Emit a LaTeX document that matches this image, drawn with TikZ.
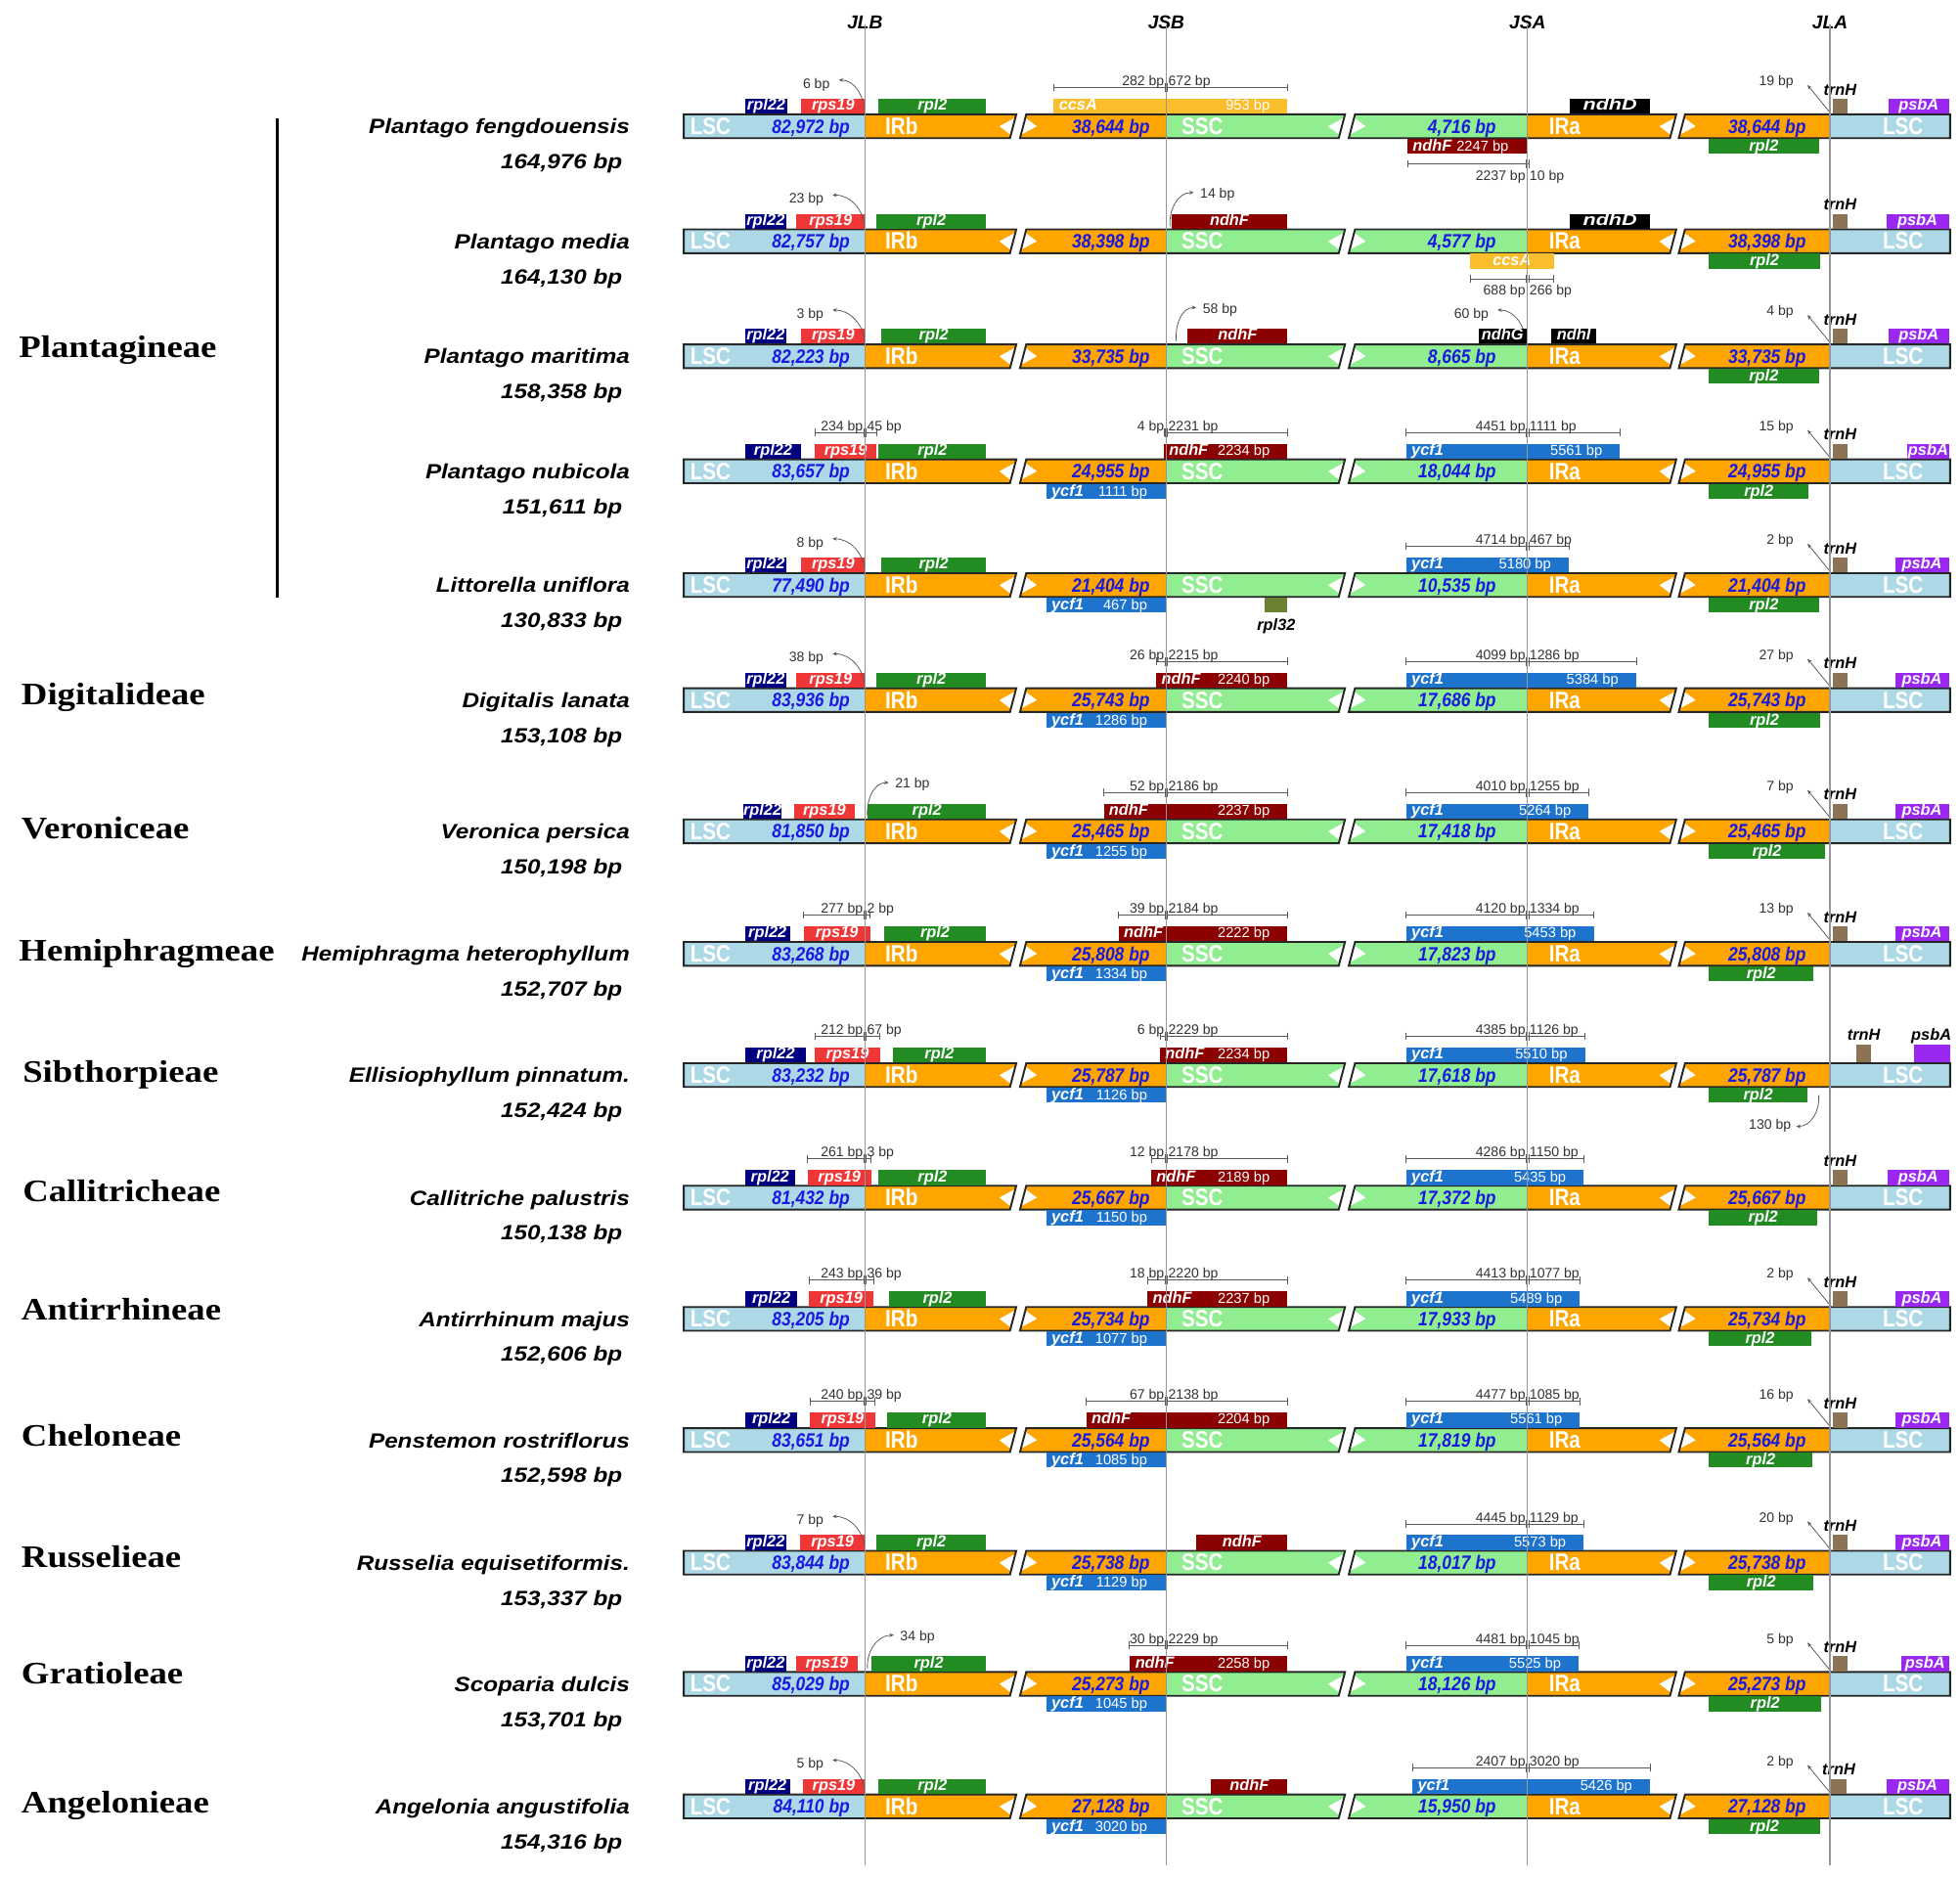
\documentclass[tikz,border=0pt]{standalone}
\usepackage{fontspec}
\usetikzlibrary{arrows.meta}
\setmainfont{Liberation Sans}
\newfontfamily\spfont[FakeStretch=1.15]{Liberation Sans}
\newfontfamily\trfont[FakeStretch=1.15]{Liberation Serif}
\newfontfamily\nafont[FakeStretch=0.88]{Liberation Sans}
\newfontfamily\rgfont[FakeStretch=0.85]{Liberation Sans}
\newfontfamily\hdfont{Liberation Sans}
\newfontfamily\wdfont[FakeStretch=1.3]{Liberation Sans}
\newcommand\fSp{\spfont\bfseries\itshape\fontsize{16.5}{18}\selectfont}
\newcommand\fTr{\trfont\bfseries\fontsize{25}{28}\selectfont}
\newcommand\fBp{\nafont\bfseries\itshape\fontsize{15.5}{17}\selectfont}
\newcommand\fReg{\rgfont\bfseries\fontsize{19}{21}\selectfont}
\newcommand\fGn{\hdfont\bfseries\itshape\fontsize{12.8}{14}\selectfont}
\newcommand\fNum{\hdfont\fontsize{11.5}{13}\selectfont}
\newcommand\fSm{\hdfont\fontsize{11}{12}\selectfont}
\newcommand\fHd{\hdfont\bfseries\itshape\fontsize{15}{17}\selectfont}
\newcommand\ndhD{{\wdfont\bfseries\itshape\fontsize{13}{14}\selectfont ndhD}}
\definecolor{lscc}{RGB}{173,216,230}
\definecolor{irc}{RGB}{255,165,0}
\definecolor{sscc}{RGB}{144,238,144}
\definecolor{bpc}{RGB}{25,25,225}
\definecolor{c22}{RGB}{0,0,128}
\definecolor{c19}{RGB}{240,55,55}
\definecolor{c2}{RGB}{34,139,34}
\definecolor{cca}{RGB}{250,190,45}
\definecolor{cnf}{RGB}{139,0,0}
\definecolor{cycf}{RGB}{30,115,205}
\definecolor{ctrn}{RGB}{140,115,85}
\definecolor{cpsb}{RGB}{155,40,240}
\definecolor{c32}{RGB}{107,130,50}
\definecolor{vline}{RGB}{150,150,150}
\tikzset{
 segl/.style={draw=black!85, line width=1.5pt, line join=miter},
 gt/.style={font=\fGn, text=white, inner sep=0pt},
 nt/.style={font=\fNum, text=white, inner sep=0pt},
 gk/.style={font=\fGn, text=black, inner sep=0pt},
 smt/.style={font=\fSm, text=black!80, inner sep=0pt},
 bpt/.style={font=\fBp, text=bpc, inner sep=0pt},
 rgt/.style={font=\fReg, text=white, inner sep=0pt},
 spt/.style={font=\fSp, text=black, inner sep=0pt},
 trt/.style={font=\fTr, text=black, inner sep=0pt},
 hdt/.style={font=\fHd, text=black, inner sep=0pt},
 dimln/.style={draw=black!65, line width=0.6pt},
 arr/.style={draw=black!65, line width=0.6pt, -{Stealth[length=3.5pt,width=3pt]}},
 vln/.style={draw=vline, line width=1pt}
}
% bar with its labels: id, c, lsc, ir, ssc
\newcommand\Gbar[5]{%
 \fill[lscc] (547,#2-9.5) rectangle (692,#2+9.5);
 \fill[irc] (692,#2-9.5) -- (813,#2-9.5) -- (808,#2+9.5) -- (692,#2+9.5) -- cycle;
 \fill[white] (811.5,#2-6.5) -- (799.5,#2) -- (808,#2+6.5) -- cycle;
 \draw[segl] (547,#2-9.5) -- (813,#2-9.5) -- (808,#2+9.5) -- (547,#2+9.5) -- cycle;
 \fill[irc] (821,#2-9.5) -- (933,#2-9.5) -- (933,#2+9.5) -- (816,#2+9.5) -- cycle;
 \fill[sscc] (933,#2-9.5) -- (1076,#2-9.5) -- (1071,#2+9.5) -- (933,#2+9.5) -- cycle;
 \fill[white] (820.7,#2-6.5) -- (829.5,#2) -- (817.3,#2+6.5) -- cycle;
 \fill[white] (1074.5,#2-6.5) -- (1062.5,#2) -- (1071,#2+6.5) -- cycle;
 \draw[segl] (821,#2-9.5) -- (1076,#2-9.5) -- (1071,#2+9.5) -- (816,#2+9.5) -- cycle;
 \fill[sscc] (1084,#2-9.5) -- (1222,#2-9.5) -- (1222,#2+9.5) -- (1079,#2+9.5) -- cycle;
 \fill[irc] (1222,#2-9.5) -- (1341,#2-9.5) -- (1336,#2+9.5) -- (1222,#2+9.5) -- cycle;
 \fill[white] (1083.7,#2-6.5) -- (1092.5,#2) -- (1080.3,#2+6.5) -- cycle;
 \fill[white] (1339.5,#2-6.5) -- (1327.5,#2) -- (1336,#2+6.5) -- cycle;
 \draw[segl] (1084,#2-9.5) -- (1341,#2-9.5) -- (1336,#2+9.5) -- (1079,#2+9.5) -- cycle;
 \fill[irc] (1348,#2-9.5) -- (1464,#2-9.5) -- (1464,#2+9.5) -- (1343,#2+9.5) -- cycle;
 \fill[lscc] (1464,#2-9.5) rectangle (1560,#2+9.5);
 \fill[white] (1347.7,#2-6.5) -- (1356.5,#2) -- (1344.3,#2+6.5) -- cycle;
 \draw[segl] (1348,#2-9.5) -- (1560,#2-9.5) -- (1560,#2+9.5) -- (1343,#2+9.5) -- cycle;
 \node[rgt, anchor=base west] (#1lsa) at (552,#2+6.5) {LSC};
 \node[bpt, anchor=base east] (#1bpa) at (680,#2+5.5) {#3};
 \node[rgt, anchor=base west] (#1irb) at (708,#2+6.5) {IRb};
 \node[bpt, anchor=base east] (#1bpb) at (920,#2+5.5) {#4};
 \node[rgt, anchor=base west] (#1ssc) at (945,#2+6.5) {SSC};
 \node[bpt, anchor=base east] (#1bpc) at (1197,#2+5.5) {#5};
 \node[rgt, anchor=base west] (#1ira) at (1239,#2+6.5) {IRa};
 \node[bpt, anchor=base east] (#1bpd) at (1445,#2+5.5) {#4};
 \node[rgt, anchor=base west] (#1lsb) at (1506,#2+6.5) {LSC};
}
\newcommand\Sp[4]{%
 \node[spt, anchor=base east] (#1sp) at (504,#2+6) {#3};
 \node[spt, anchor=base east] (#1sz) at (498,#2+34) {#4};}
\newcommand\GA[6]{\fill[#5] (#3,#2-22) rectangle (#4,#2-10);
 \node[gt, anchor=base] (#1) at ({(#3+#4)/2},#2-12.8) {#6};}
\newcommand\GB[6]{\fill[#5] (#3,#2+10) rectangle (#4,#2+22);
 \node[gt, anchor=base] (#1) at ({(#3+#4)/2},#2+19.8) {#6};}
\newcommand\GAn[7]{\fill[#5] (#3,#2-22) rectangle (#4,#2-10);
 \node[gt, anchor=base west] (#1) at (#3+4,#2-12.8) {#6};
 \node[nt, anchor=base east] (#1n) at (#4-14,#2-12.8) {#7};}
\newcommand\GBn[7]{\fill[#5] (#3,#2+10) rectangle (#4,#2+22);
 \node[gt, anchor=base west] (#1) at (#3+4,#2+19.8) {#6};
 \node[nt, anchor=base east] (#1n) at (#4-15,#2+19.8) {#7};}
\newcommand\DimA[7]{%
 \coordinate (#1a) at (#3,#2-31); \coordinate (#1b) at (#5,#2-31);
 \draw[dimln] (#1a) -- (#1b);
 \draw[dimln] (#3,#2-34) -- (#3,#2-28) (#5,#2-34) -- (#5,#2-28) (#4-1,#2-34.5) -- (#4-1,#2-27.5) (#4+1,#2-34.5) -- (#4+1,#2-27.5);
 \node[smt, anchor=base east] (#1l) at (#4-1.5,#2-32.5) {#6};
 \node[smt, anchor=base west] (#1r) at (#4+1.5,#2-32.5) {#7};}
\newcommand\DimB[7]{%
 \coordinate (#1a) at (#3,#2+30); \coordinate (#1b) at (#5,#2+30);
 \draw[dimln] (#1a) -- (#1b);
 \draw[dimln] (#3,#2+27) -- (#3,#2+33) (#5,#2+27) -- (#5,#2+33) (#4-1,#2+26.5) -- (#4-1,#2+33.5) (#4+1,#2+26.5) -- (#4+1,#2+33.5);
 \node[smt, anchor=base east] (#1l) at (#4-1.5,#2+43) {#6};
 \node[smt, anchor=base west] (#1r) at (#4+1.5,#2+43) {#7};}
% curved arrow to the left: name c xstart xlabel(right edge) label
\newcommand\ArrL[5]{%
 \node[smt, anchor=base east] (#1) at (#4,#2-30.5) {#5};
 \coordinate (#1s) at (#3,#2-11);
 \coordinate (#1e) at (#4+7,#2-37);
 \draw[arr] (#1s) to[out=95,in=0] (#1e);}
% curved arrow to the right: name c xstart xlabel(left edge) label
\newcommand\ArrR[5]{%
 \node[smt, anchor=base west] (#1) at (#4,#2-34.5) {#5};
 \coordinate (#1s) at (#3,#2-12);
 \coordinate (#1e) at (#4-5,#2-39);
 \draw[arr] (#1s) to[out=95,in=180] (#1e);}
% straight arrow at JLA
\newcommand\ArrT[3]{%
 \node[smt, anchor=base east] (#1) at (1435,#2-32.5) {#3};
 \coordinate (#1s) at (1464,#2-11);
 \coordinate (#1e) at (1446,#2-33);
 \draw[arr] (#1s) -- (#1e);}
\newcommand\Trn[3]{%
 \fill[ctrn] (#3,#2-22) rectangle (#3+12,#2-10);
 \node[gk, anchor=base] (#1) at (#3+6,#2-25) {trnH};}
\begin{document}
\begin{tikzpicture}[x=1pt,y=-1pt]
\useasboundingbox (0,0) rectangle (1568,1502);
\fill[white] (0,0) rectangle (1568,1502);
% headers
\node[hdt] (hJLB) at (692,18) {JLB};
\node[hdt] (hJSB) at (933,18) {JSB};
\node[hdt] (hJSA) at (1222,18) {JSA};
\node[hdt] (hJLA) at (1464,18) {JLA};
% tribes
\node[trt, anchor=base west] (t1) at (15,286) {Plantagineae};
\node[trt, anchor=base west] (t2) at (17,564) {Digitalideae};
\node[trt, anchor=base west] (t3) at (17,671) {Veroniceae};
\node[trt, anchor=base west] (t4) at (15,769) {Hemiphragmeae};
\node[trt, anchor=base west] (t5) at (18,866) {Sibthorpieae};
\node[trt, anchor=base west] (t6) at (18,961) {Callitricheae};
\node[trt, anchor=base west] (t7) at (17,1056) {Antirrhineae};
\node[trt, anchor=base west] (t8) at (17,1157) {Cheloneae};
\node[trt, anchor=base west] (t9) at (17,1254) {Russelieae};
\node[trt, anchor=base west] (t10) at (17,1347) {Gratioleae};
\node[trt, anchor=base west] (t11) at (17,1450) {Angelonieae};
\coordinate (pa) at (222,95); \coordinate (pb) at (222,478);
\draw[line width=2.2pt] (pa) -- (pb);
% ---- row 1
\Sp{r1}{101}{Plantago fengdouensis}{164,976 bp}
\Gbar{r1}{101}{82,972 bp}{38,644 bp}{4,716 bp}
\GA{r1a}{101}{596}{630}{c22}{rpl22}
\GA{r1b}{101}{641}{692}{c19}{rps19}
\GA{r1c}{101}{703}{789}{c2}{rpl2}
\GAn{r1d}{101}{843}{1030}{cca}{ccsA}{953 bp}
\DimA{r1e}{101}{843}{933}{1030}{282 bp}{672 bp}
\GA{r1f}{101}{1256}{1320}{black}{\ndhD}
\Trn{r1g}{101}{1466}
\GA{r1h}{101}{1511}{1559}{cpsb}{psbA}
\ArrL{r1i}{101}{692}{664}{6 bp}
\ArrT{r1j}{101}{19 bp}
\GBn{r1k}{101}{1126}{1222}{cnf}{ndhF}{2247 bp}
\DimB{r1l}{101}{1126}{1222}{1223}{2237 bp}{10 bp}
\GB{r1m}{101}{1367}{1455}{c2}{rpl2}
% ---- row 2
\Sp{r2}{193}{Plantago media}{164,130 bp}
\Gbar{r2}{193}{82,757 bp}{38,398 bp}{4,577 bp}
\GA{r2a}{193}{596}{629}{c22}{rpl22}
\GA{r2b}{193}{637}{692}{c19}{rps19}
\GA{r2c}{193}{701}{789}{c2}{rpl2}
\ArrL{r2i}{193}{692}{659}{23 bp}
\ArrR{r2n}{193}{936}{960}{14 bp}
\GA{r2d}{193}{937}{1030}{cnf}{ndhF}
\GA{r2f}{193}{1256}{1320}{black}{\ndhD}
\Trn{r2g}{193}{1466}
\GA{r2h}{193}{1509}{1559}{cpsb}{psbA}
\GB{r2k}{193}{1176}{1243}{cca}{ccsA}
\DimB{r2l}{193}{1176}{1222}{1243}{688 bp}{266 bp}
\GB{r2m}{193}{1367}{1456}{c2}{rpl2}
% ---- row 3
\Sp{r3}{285}{Plantago maritima}{158,358 bp}
\Gbar{r3}{285}{82,223 bp}{33,735 bp}{8,665 bp}
\GA{r3a}{285}{596}{629}{c22}{rpl22}
\GA{r3b}{285}{641}{692}{c19}{rps19}
\GA{r3c}{285}{705}{789}{c2}{rpl2}
\ArrL{r3i}{285}{692}{659}{3 bp}
\ArrR{r3n}{285}{941}{962}{58 bp}
\GA{r3d}{285}{950}{1030}{cnf}{ndhF}
\ArrL{r3o}{285}{1221}{1191}{60 bp}
\GA{r3f}{285}{1183}{1221}{black}{ndhG}
\GA{r3p}{285}{1241}{1277}{black}{ndhI}
\ArrT{r3j}{285}{4 bp}
\Trn{r3g}{285}{1466}
\GA{r3h}{285}{1511}{1559}{cpsb}{psbA}
\GB{r3m}{285}{1367}{1455}{c2}{rpl2}
% ---- row 4
\Sp{r4}{377}{Plantago nubicola}{151,611 bp}
\Gbar{r4}{377}{83,657 bp}{24,955 bp}{18,044 bp}
\DimA{r4e}{377}{652}{692}{701}{234 bp}{45 bp}
\GA{r4a}{377}{596}{641}{c22}{rpl22}
\GA{r4b}{377}{652}{701}{c19}{rps19}
\GA{r4c}{377}{703}{789}{c2}{rpl2}
\DimA{r4p}{377}{931}{933}{1030}{4 bp}{2231 bp}
\GAn{r4d}{377}{931}{1030}{cnf}{ndhF}{2234 bp}
\DimA{r4q}{377}{1125}{1222}{1296}{4451 bp}{1111 bp}
\GAn{r4r}{377}{1125}{1296}{cycf}{ycf1}{5561 bp}
\ArrT{r4j}{377}{15 bp}
\Trn{r4g}{377}{1466}
\GA{r4h}{377}{1526}{1559}{cpsb}{psbA}
\GBn{r4k}{377}{837}{933}{cycf}{ycf1}{1111 bp}
\GB{r4m}{377}{1367}{1447}{c2}{rpl2}
% ---- row 5
\Sp{r5}{468}{Littorella uniflora}{130,833 bp}
\Gbar{r5}{468}{77,490 bp}{21,404 bp}{10,535 bp}
\GA{r5a}{468}{596}{629}{c22}{rpl22}
\GA{r5b}{468}{641}{692}{c19}{rps19}
\GA{r5c}{468}{705}{789}{c2}{rpl2}
\ArrL{r5i}{468}{692}{659}{8 bp}
\DimA{r5q}{468}{1125}{1222}{1255}{4714 bp}{467 bp}
\GAn{r5r}{468}{1125}{1255}{cycf}{ycf1}{5180 bp}
\ArrT{r5j}{468}{2 bp}
\Trn{r5g}{468}{1466}
\GA{r5h}{468}{1516}{1559}{cpsb}{psbA}
\GBn{r5k}{468}{837}{933}{cycf}{ycf1}{467 bp}
\fill[c32] (1012,478) rectangle (1030,490);
\node[gk, anchor=base] (r5s) at (1021,504) {rpl32};
\GB{r5m}{468}{1367}{1455}{c2}{rpl2}
% ---- row 6
\Sp{r6}{560}{Digitalis lanata}{153,108 bp}
\Gbar{r6}{560}{83,936 bp}{25,743 bp}{17,686 bp}
\GA{r6a}{560}{596}{629}{c22}{rpl22}
\GA{r6b}{560}{637}{692}{c19}{rps19}
\GA{r6c}{560}{701}{789}{c2}{rpl2}
\ArrL{r6i}{560}{692}{659}{38 bp}
\DimA{r6p}{560}{925}{933}{1030}{26 bp}{2215 bp}
\GAn{r6d}{560}{925}{1030}{cnf}{ndhF}{2240 bp}
\DimA{r6q}{560}{1125}{1222}{1309}{4099 bp}{1286 bp}
\GAn{r6r}{560}{1125}{1309}{cycf}{ycf1}{5384 bp}
\ArrT{r6j}{560}{27 bp}
\Trn{r6g}{560}{1466}
\GA{r6h}{560}{1516}{1559}{cpsb}{psbA}
\GBn{r6k}{560}{837}{933}{cycf}{ycf1}{1286 bp}
\GB{r6m}{560}{1367}{1456}{c2}{rpl2}
% ---- row 7
\Sp{r7}{665}{Veronica persica}{150,198 bp}
\Gbar{r7}{665}{81,850 bp}{25,465 bp}{17,418 bp}
\GA{r7a}{665}{595}{625}{c22}{rpl22}
\GA{r7b}{665}{635}{684}{c19}{rps19}
\GA{r7c}{665}{694}{789}{c2}{rpl2}
\ArrR{r7n}{665}{694}{716}{21 bp}
\DimA{r7p}{665}{883}{933}{1030}{52 bp}{2186 bp}
\GAn{r7d}{665}{883}{1030}{cnf}{ndhF}{2237 bp}
\DimA{r7q}{665}{1125}{1222}{1271}{4010 bp}{1255 bp}
\GAn{r7r}{665}{1125}{1271}{cycf}{ycf1}{5264 bp}
\ArrT{r7j}{665}{7 bp}
\Trn{r7g}{665}{1466}
\GA{r7h}{665}{1516}{1559}{cpsb}{psbA}
\GBn{r7k}{665}{837}{933}{cycf}{ycf1}{1255 bp}
\GB{r7m}{665}{1367}{1460}{c2}{rpl2}
% ---- row 8
\Sp{r8}{763}{Hemiphragma heterophyllum}{152,707 bp}
\Gbar{r8}{763}{83,268 bp}{25,808 bp}{17,823 bp}
\DimA{r8e}{763}{643}{692}{696}{277 bp}{2 bp}
\GA{r8a}{763}{596}{632}{c22}{rpl22}
\GA{r8b}{763}{643}{696}{c19}{rps19}
\GA{r8c}{763}{707}{789}{c2}{rpl2}
\DimA{r8p}{763}{895}{933}{1030}{39 bp}{2184 bp}
\GAn{r8d}{763}{895}{1030}{cnf}{ndhF}{2222 bp}
\DimA{r8q}{763}{1125}{1222}{1275}{4120 bp}{1334 bp}
\GAn{r8r}{763}{1125}{1275}{cycf}{ycf1}{5453 bp}
\ArrT{r8j}{763}{13 bp}
\Trn{r8g}{763}{1466}
\GA{r8h}{763}{1516}{1559}{cpsb}{psbA}
\GBn{r8k}{763}{837}{933}{cycf}{ycf1}{1334 bp}
\GB{r8m}{763}{1367}{1451}{c2}{rpl2}
% ---- row 9
\Sp{r9}{860}{Ellisiophyllum pinnatum.}{152,424 bp}
\Gbar{r9}{860}{83,232 bp}{25,787 bp}{17,618 bp}
\DimA{r9e}{860}{652}{692}{704}{212 bp}{67 bp}
\GA{r9a}{860}{596}{645}{c22}{rpl22}
\GA{r9b}{860}{652}{704}{c19}{rps19}
\GA{r9c}{860}{714}{789}{c2}{rpl2}
\DimA{r9p}{860}{928}{933}{1030}{6 bp}{2229 bp}
\GAn{r9d}{860}{928}{1030}{cnf}{ndhF}{2234 bp}
\DimA{r9q}{860}{1125}{1222}{1268}{4385 bp}{1126 bp}
\GAn{r9r}{860}{1125}{1268}{cycf}{ycf1}{5510 bp}
\fill[ctrn] (1485,836) rectangle (1497,850);
\node[gk, anchor=base] (r9g) at (1491,832) {trnH};
\fill[cpsb] (1531,836) rectangle (1560,850);
\node[gk, anchor=base] (r9h) at (1545,832) {psbA};
\GBn{r9k}{860}{837}{933}{cycf}{ycf1}{1126 bp}
\GB{r9m}{860}{1367}{1446}{c2}{rpl2}
\node[smt, anchor=base east] (r9t) at (1433,903) {130 bp};
\coordinate (r9ts) at (1455,876);
\coordinate (r9te) at (1437,901);
\draw[arr] (r9ts) to[out=-85,in=0] (r9te);
% ---- row 10
\Sp{r10}{958}{Callitriche palustris}{150,138 bp}
\Gbar{r10}{958}{81,432 bp}{25,667 bp}{17,372 bp}
\DimA{r10e}{958}{646}{692}{697}{261 bp}{3 bp}
\GA{r10a}{958}{596}{636}{c22}{rpl22}
\GA{r10b}{958}{646}{697}{c19}{rps19}
\GA{r10c}{958}{703}{789}{c2}{rpl2}
\DimA{r10p}{958}{921}{933}{1030}{12 bp}{2178 bp}
\GAn{r10d}{958}{921}{1030}{cnf}{ndhF}{2189 bp}
\DimA{r10q}{958}{1125}{1222}{1267}{4286 bp}{1150 bp}
\GAn{r10r}{958}{1125}{1267}{cycf}{ycf1}{5435 bp}
\Trn{r10g}{958}{1466}
\GA{r10h}{958}{1510}{1559}{cpsb}{psbA}
\GBn{r10k}{958}{837}{933}{cycf}{ycf1}{1150 bp}
\GB{r10m}{958}{1367}{1454}{c2}{rpl2}
% ---- row 11
\Sp{r11}{1055}{Antirrhinum majus}{152,606 bp}
\Gbar{r11}{1055}{83,205 bp}{25,734 bp}{17,933 bp}
\DimA{r11e}{1055}{647}{692}{699}{243 bp}{36 bp}
\GA{r11a}{1055}{596}{638}{c22}{rpl22}
\GA{r11b}{1055}{647}{699}{c19}{rps19}
\GA{r11c}{1055}{711}{789}{c2}{rpl2}
\DimA{r11p}{1055}{918}{933}{1030}{18 bp}{2220 bp}
\GAn{r11d}{1055}{918}{1030}{cnf}{ndhF}{2237 bp}
\DimA{r11q}{1055}{1125}{1222}{1264}{4413 bp}{1077 bp}
\GAn{r11r}{1055}{1125}{1264}{cycf}{ycf1}{5489 bp}
\ArrT{r11j}{1055}{2 bp}
\Trn{r11g}{1055}{1466}
\GA{r11h}{1055}{1516}{1559}{cpsb}{psbA}
\GBn{r11k}{1055}{837}{933}{cycf}{ycf1}{1077 bp}
\GB{r11m}{1055}{1367}{1449}{c2}{rpl2}
% ---- row 12
\Sp{r12}{1152}{Penstemon rostriflorus}{152,598 bp}
\Gbar{r12}{1152}{83,651 bp}{25,564 bp}{17,819 bp}
\DimA{r12e}{1152}{648}{692}{700}{240 bp}{39 bp}
\GA{r12a}{1152}{596}{638}{c22}{rpl22}
\GA{r12b}{1152}{648}{700}{c19}{rps19}
\GA{r12c}{1152}{710}{789}{c2}{rpl2}
\DimA{r12p}{1152}{869}{933}{1030}{67 bp}{2138 bp}
\GAn{r12d}{1152}{869}{1030}{cnf}{ndhF}{2204 bp}
\DimA{r12q}{1152}{1125}{1222}{1264}{4477 bp}{1085 bp}
\GAn{r12r}{1152}{1125}{1264}{cycf}{ycf1}{5561 bp}
\ArrT{r12j}{1152}{16 bp}
\Trn{r12g}{1152}{1466}
\GA{r12h}{1152}{1516}{1559}{cpsb}{psbA}
\GBn{r12k}{1152}{837}{933}{cycf}{ycf1}{1085 bp}
\GB{r12m}{1152}{1367}{1450}{c2}{rpl2}
% ---- row 13
\Sp{r13}{1250}{Russelia equisetiformis.}{153,337 bp}
\Gbar{r13}{1250}{83,844 bp}{25,738 bp}{18,017 bp}
\GA{r13a}{1250}{596}{629}{c22}{rpl22}
\GA{r13b}{1250}{640}{692}{c19}{rps19}
\GA{r13c}{1250}{701}{789}{c2}{rpl2}
\ArrL{r13i}{1250}{692}{659}{7 bp}
\GA{r13d}{1250}{957}{1030}{cnf}{ndhF}
\DimA{r13q}{1250}{1125}{1222}{1267}{4445 bp}{1129 bp}
\GAn{r13r}{1250}{1125}{1267}{cycf}{ycf1}{5573 bp}
\ArrT{r13j}{1250}{20 bp}
\Trn{r13g}{1250}{1466}
\GA{r13h}{1250}{1516}{1559}{cpsb}{psbA}
\GBn{r13k}{1250}{837}{933}{cycf}{ycf1}{1129 bp}
\GB{r13m}{1250}{1367}{1451}{c2}{rpl2}
% ---- row 14
\Sp{r14}{1347}{Scoparia dulcis}{153,701 bp}
\Gbar{r14}{1347}{85,029 bp}{25,273 bp}{18,126 bp}
\GA{r14a}{1347}{596}{629}{c22}{rpl22}
\GA{r14b}{1347}{637}{686}{c19}{rps19}
\GA{r14c}{1347}{697}{789}{c2}{rpl2}
\ArrR{r14n}{1347}{694}{720}{34 bp}
\DimA{r14p}{1347}{903}{933}{1030}{30 bp}{2229 bp}
\GAn{r14d}{1347}{904}{1030}{cnf}{ndhF}{2258 bp}
\DimA{r14q}{1347}{1125}{1222}{1263}{4481 bp}{1045 bp}
\GAn{r14r}{1347}{1125}{1263}{cycf}{ycf1}{5525 bp}
\ArrT{r14j}{1347}{5 bp}
\Trn{r14g}{1347}{1466}
\GA{r14h}{1347}{1521}{1559}{cpsb}{psbA}
\GBn{r14k}{1347}{837}{933}{cycf}{ycf1}{1045 bp}
\GB{r14m}{1347}{1367}{1457}{c2}{rpl2}
% ---- row 15
\Sp{r15}{1445}{Angelonia angustifolia}{154,316 bp}
\Gbar{r15}{1445}{84,110 bp}{27,128 bp}{15,950 bp}
\GA{r15a}{1445}{596}{632}{c22}{rpl22}
\GA{r15b}{1445}{642}{692}{c19}{rps19}
\GA{r15c}{1445}{703}{789}{c2}{rpl2}
\ArrL{r15i}{1445}{692}{659}{5 bp}
\GA{r15d}{1445}{969}{1030}{cnf}{ndhF}
\DimA{r15q}{1445}{1130}{1222}{1320}{2407 bp}{3020 bp}
\GAn{r15r}{1445}{1130}{1320}{cycf}{ycf1}{5426 bp}
\ArrT{r15j}{1445}{2 bp}
\Trn{r15g}{1445}{1465}
\GA{r15h}{1445}{1509}{1559}{cpsb}{psbA}
\GBn{r15k}{1445}{837}{933}{cycf}{ycf1}{3020 bp}
\GB{r15m}{1445}{1367}{1456}{c2}{rpl2}
% junction lines
\coordinate (eJLB) at (692,1492);
\coordinate (eJSB) at (933,1492);
\coordinate (eJSA) at (1222,1492);
\coordinate (eJLA) at (1464,1492);
\draw[vln] (hJLB.south) ++(0,-4) -- (eJLB);
\draw[vln] (hJSB.south) ++(0,-4) -- (eJSB);
\draw[vln] (hJSA.south) ++(0,-4) -- (eJSA);
\draw[vln] (hJLA.south) ++(0,-4) -- (eJLA);
\end{tikzpicture}
\end{document}
